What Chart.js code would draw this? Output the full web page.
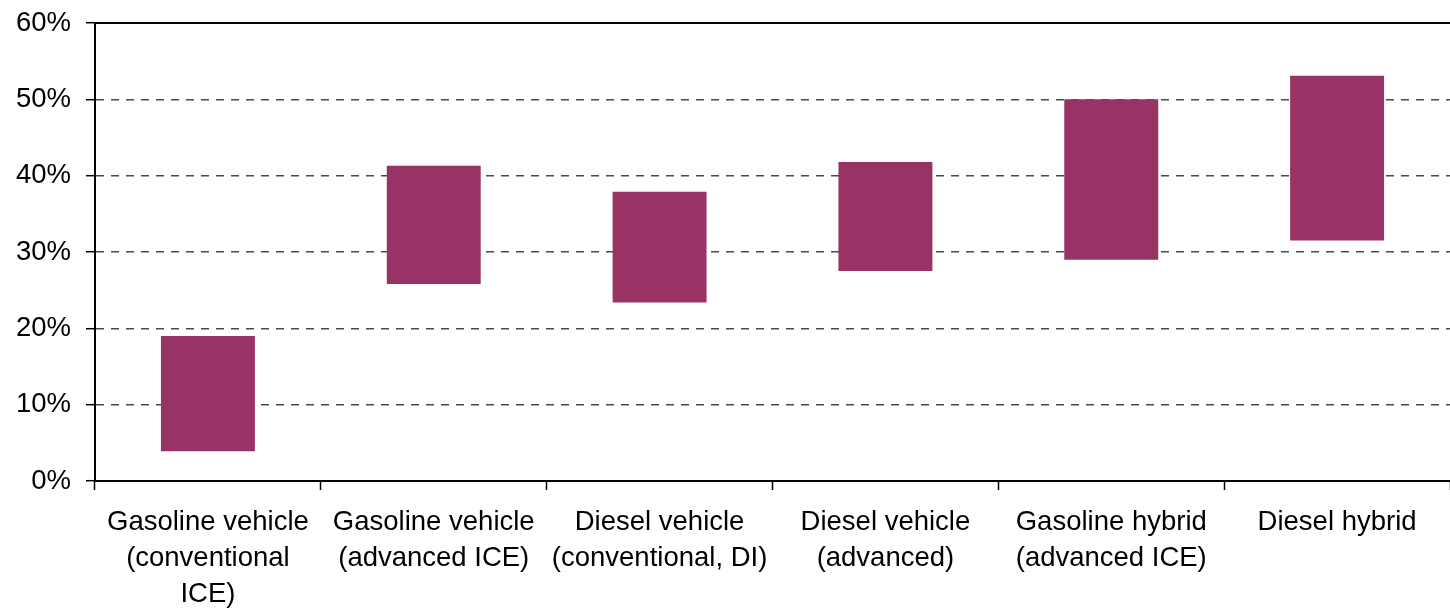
<!DOCTYPE html>
<html>
<head>
<meta charset="utf-8">
<script src="https://cdn.jsdelivr.net/npm/chart.js@4/dist/chart.umd.min.js"></script>
<style>
html,body{margin:0;padding:0;background:#fff;}
#wrap{width:1450px;height:610px;position:relative;}
</style>
</head>
<body>
<div id="wrap"><canvas id="c"></canvas></div>
<script>
const categories = [
  ["Gasoline vehicle", "(conventional", "ICE)"],
  ["Gasoline vehicle", "(advanced ICE)"],
  ["Diesel vehicle", "(conventional, DI)"],
  ["Diesel vehicle", "(advanced)"],
  ["Gasoline hybrid", "(advanced ICE)"],
  ["Diesel hybrid"]
];
const lowValues  = [3.9, 25.8, 23.4, 27.5, 29.0, 31.5];
const highValues = [19.0, 41.3, 37.9, 41.8, 50.0, 53.1];
const yTicks = [0, 10, 20, 30, 40, 50, 60];

const ranges = lowValues.map((lo, i) => [lo, highValues[i]]);
const FONT = "'Liberation Sans', Arial, Helvetica, sans-serif";

new Chart(document.getElementById('c'), {
  type: 'bar',
  data: {
    labels: categories,
    datasets: [{
      data: ranges,
      backgroundColor: '#993366',
      borderWidth: 0,
      barPercentage: 0.416,
      categoryPercentage: 1.0
    }]
  },
  options: {
    responsive: true,
    maintainAspectRatio: false,
    animation: false,
    layout: { padding: { top: 23, right: 0, left: 0, bottom: 0 } },
    plugins: { legend: { display: false }, tooltip: { enabled: false } },
    scales: {
      x: {
        position: 'bottom',
        offset: true,
        grid: {
          offset: true,
          drawOnChartArea: false,
          drawTicks: true,
          tickLength: 9,
          tickColor: '#000',
          tickWidth: 1.5
        },
        border: { display: true, color: '#000', width: 2 },
        ticks: {
          color: '#000',
          font: { family: FONT, size: 27.5, lineHeight: 1.31 },
          maxRotation: 0,
          minRotation: 0,
          autoSkip: false,
          padding: 14
        },
        afterFit: s => { s.height = 129; s.paddingLeft = 0; s.paddingRight = 0; }
      },
      xTop: {
        position: 'top',
        display: true,
        grid: { display: false, drawTicks: false },
        border: { display: true, color: '#000', width: 2 },
        ticks: { display: false },
        afterFit: s => { s.height = 0; }
      },
      y: {
        min: 0,
        max: 60,
        afterBuildTicks: s => { s.ticks = yTicks.map(v => ({ value: v })); },
        grid: {
          color: ctx => (ctx.tick && (ctx.tick.value === 0 || ctx.tick.value === 60)) ? 'rgba(0,0,0,0)' : '#4a4a4a',
          lineWidth: 1.4,
          tickLength: 9,
          tickColor: '#000',
          tickWidth: 1.5,
          tickBorderDash: [],
          drawTicks: true
        },
        border: { display: true, color: '#000', width: 2, dash: [8, 7] },
        ticks: {
          color: '#000',
          font: { family: FONT, size: 27.5 },
          padding: 15,
          callback: v => v + '%'
        },
        afterFit: s => { s.width = 95; s.paddingTop = 0; s.paddingBottom = 0; }
      }
    }
  }
});
</script>
</body>
</html>
